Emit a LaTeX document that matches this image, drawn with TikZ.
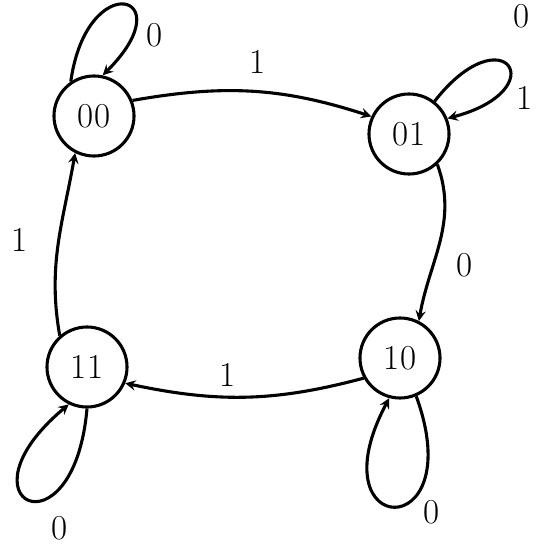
\documentclass[tikz,border=0pt]{standalone}
\begin{document}
\begin{tikzpicture}[x=0.025cm, y=0.025cm, every node/.style={font=\Huge}]
        \tikzstyle{circ} = [draw, circle, minimum size=2cm, align=center, inner sep=1pt, line width=2.2pt]
        \tikzstyle{arc} = [->, >=stealth, line width=2.2pt]
        \useasboundingbox (0,0) rectangle (537,-544);
        \node[circ] (S00) at (94, -116) {00};
        \node[circ] (S01) at (409, -134) {01};
        \node[circ] (S10) at (400, -358) {10};
        \node[circ] (S11) at (87, -367) {11};
        \draw[arc] (S00.22) to[out=10, in=162] (S01.155);
        \draw[arc] (S01.-47) to[out=-70, in=80] (S10.63);
        \draw[arc] (S10.209) to[out=195, in=-12] (S11.-23);
        \draw[arc] (S11.131) to[out=100, in=-100] (S00.-117);
        \draw[arc] (S00.124) to[out=82, in=45, distance=2.9cm] (S00.78);
        \draw[arc] (S01.52) to[out=52, in=15, distance=2.8cm] (S01.22);
        \draw[arc] (S10.-67) to[out=-70, in=-118, distance=4cm] (S10.-105);
        \draw[arc] (S11.-90) to[out=-95, in=-140, distance=3.8cm] (S11.-116);
        \node (L1) at (155, -35) {0};
        \node (L2) at (258, -62) {1};
        \node (L3) at (525, -98) {1};
        \node (L4) at (465, -265) {0};
        \node (L5) at (228, -375) {1};
        \node (L6) at (20, -240) {1};
        \node (L7) at (60, -528) {0};
        \node (L8) at (432, -512) {0};
        \node (L9) at (522, -16) {0};
      \end{tikzpicture}
\end{document}
